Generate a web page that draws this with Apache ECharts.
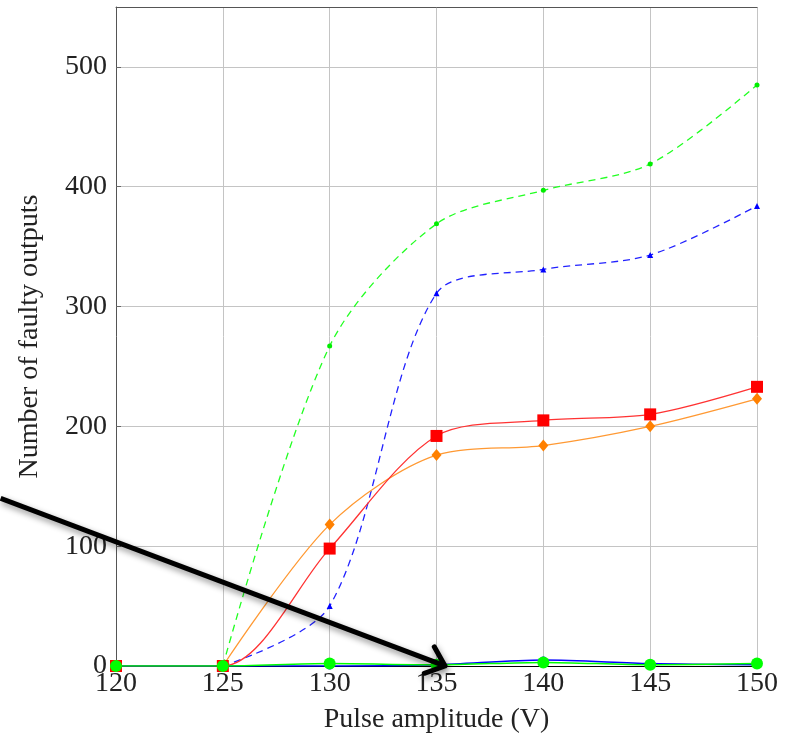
<!DOCTYPE html>
<html><head><meta charset="utf-8">
<script src="https://cdn.jsdelivr.net/npm/echarts@6/dist/echarts.min.js"></script>
<style>html,body{margin:0;padding:0;background:#fff}#c{width:791px;height:739px}</style>
</head><body><div id="c"></div>
<script>
const amplitudes = [120, 125, 130, 135, 140, 145, 150];
const greenDashed = [null, 0, 267, 369, 397, 419, 485];
const blueDashed = [null, 0, 50, 311, 331, 343, 384];
const orangeSolid = [null, 0, 118, 176, 184, 200, 223];
const redSolid = [0, 0, 98, 192, 205, 210, 233];
const blueSolid = [0, 0, 0, 1, 5, 2, 1];
const greenSolid = [0, 0, 2, 1, 3, 1, 2];
const xTickLabels = [120, 125, 130, 135, 140, 145, 150];
const yTickLabels = [0, 100, 200, 300, 400, 500];
const arrowFrom = [114.6, 140];
const arrowTo = [135.4, 0];

function pts(vals) {
  const out = [];
  amplitudes.forEach((x, i) => { if (vals[i] != null) out.push([x, vals[i]]); });
  return out;
}
const FONT = 'Liberation Serif';
const SM = 0.3;
const chart = echarts.init(document.getElementById('c'), null, {renderer: 'canvas'});
const option = {
  animation: false,
  backgroundColor: '#fff',
  grid: {left: 116, right: 34, top: 7, bottom: 73, containLabel: false},
  xAxis: [{
    type: 'value', min: 120, max: 150, interval: 5,
    name: 'Pulse amplitude (V)', nameLocation: 'middle', nameGap: 40,
    nameTextStyle: {fontFamily: FONT, fontSize: 28, color: '#222'},
    axisLine: {show: true, lineStyle: {color: '#000', width: 1}},
    axisTick: {show: true, inside: true, length: 5, lineStyle: {color: '#666'}},
    axisLabel: {fontFamily: FONT, fontSize: 28, color: '#222', margin: 4,
      formatter: v => xTickLabels.indexOf(v) >= 0 ? String(v) : ''},
    splitLine: {show: true, lineStyle: {color: '#c4c4c4', width: 1}}
  }, {
    type: 'value', position: 'top', min: 120, max: 150, interval: 5,
    axisLine: {show: true, lineStyle: {color: '#555', width: 1}},
    axisTick: {show: false}, axisLabel: {show: false}, splitLine: {show: false}
  }],
  yAxis: {
    type: 'value', min: 0, max: 550, interval: 100,
    name: 'Number of faulty outputs', nameLocation: 'middle', nameGap: 72,
    nameTextStyle: {fontFamily: FONT, fontSize: 28, color: '#222'},
    axisLine: {show: true, lineStyle: {color: '#555', width: 1}},
    axisTick: {show: true, inside: true, length: 5, lineStyle: {color: '#666'}},
    axisLabel: {fontFamily: FONT, fontSize: 28, color: '#222', margin: 9, showMaxLabel: false,
      formatter: v => yTickLabels.indexOf(v) >= 0 ? String(v) : ''},
    splitLine: {show: true, lineStyle: {color: '#c4c4c4', width: 1}}
  },
  series: [
    {type: 'line', data: pts(greenDashed), smooth: SM, symbol: 'circle', symbolSize: 5,
      lineStyle: {color: '#22ff22', width: 1.3, type: [7, 5]}, itemStyle: {color: '#00ee00'}},
    {type: 'line', data: pts(blueDashed), smooth: SM, symbol: 'triangle', symbolSize: 6,
      lineStyle: {color: '#2222ff', width: 1.3, type: [7, 5]}, itemStyle: {color: '#0000ff'}},
    {type: 'line', data: pts(orangeSolid), smooth: SM, symbol: 'diamond', symbolSize: [10, 12],
      lineStyle: {color: '#ff9933', width: 1.3}, itemStyle: {color: '#ff8000'}},
    {type: 'line', data: pts(redSolid), smooth: SM, symbol: 'rect', symbolSize: 12,
      lineStyle: {color: '#ff3333', width: 1.3}, itemStyle: {color: '#ff0000'}},
    {type: 'line', data: pts(blueSolid), smooth: SM, symbol: 'circle', symbolSize: 7,
      lineStyle: {color: '#0000ff', width: 1.5}, itemStyle: {color: '#0000ff'}},
    {type: 'line', data: pts(greenSolid), smooth: SM, symbol: 'circle', symbolSize: 12,
      lineStyle: {color: '#00ff00', width: 1.5}, itemStyle: {color: '#00ff00'}}
  ]
};
chart.setOption(option);

const p0 = chart.convertToPixel({gridIndex: 0}, arrowFrom);
const p1 = chart.convertToPixel({gridIndex: 0}, arrowTo);
const dx = p1[0] - p0[0], dy = p1[1] - p0[1];
const len = Math.hypot(dx, dy);
const ux = dx / len, uy = dy / len;
const L = 22, ang = 40 * Math.PI / 180;
function arm(s) {
  const c = Math.cos(s * ang), sn = Math.sin(s * ang);
  const rx = ux * c - uy * sn, ry = ux * sn + uy * c;
  return [p1[0] - rx * L, p1[1] - ry * L];
}
const shadow = {shadowBlur: 6, shadowColor: 'rgba(0,0,0,0.45)', shadowOffsetX: 1, shadowOffsetY: 3};
chart.setOption({
  graphic: [
    {type: 'polyline', z: 100, shape: {points: [p0, [p1[0] - ux * 3, p1[1] - uy * 3]]},
      style: Object.assign({stroke: '#000', lineWidth: 5, fill: null, lineCap: 'butt'}, shadow)},
    {type: 'polyline', z: 101, shape: {points: [arm(1), p1, arm(-1)]},
      style: Object.assign({stroke: '#000', lineWidth: 5, fill: null, lineJoin: 'round', lineCap: 'round'}, shadow)}
  ]
});
</script></body></html>
